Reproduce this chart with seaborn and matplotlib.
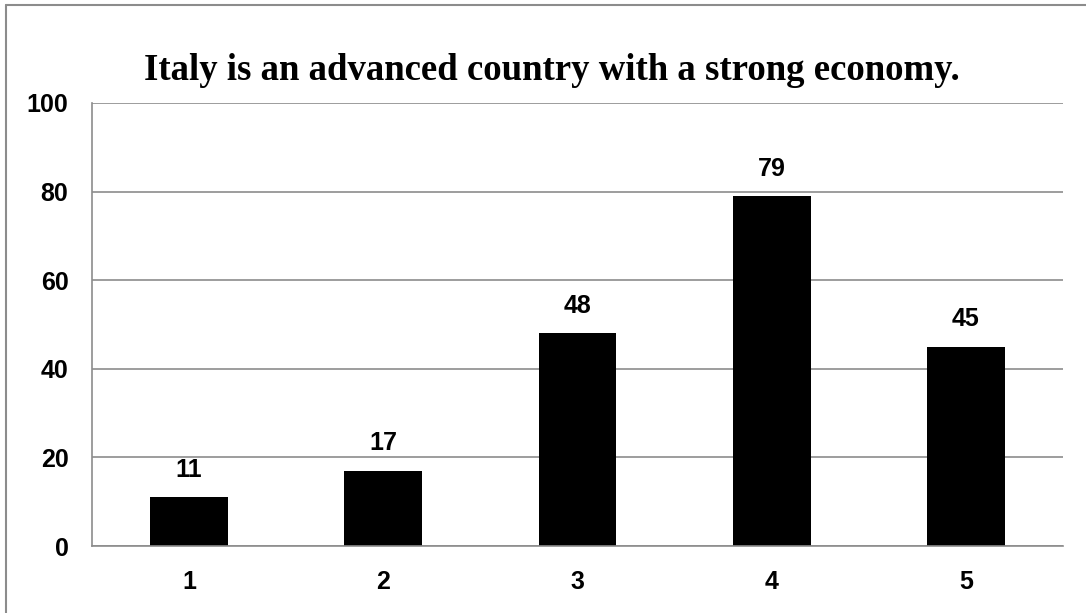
import matplotlib
matplotlib.use("Agg")
import matplotlib.pyplot as plt
from matplotlib.lines import Line2D
import seaborn as sns
import pandas as pd

categories = ["1", "2", "3", "4", "5"]
counts = [11, 17, 48, 79, 45]
y_ticks = [0, 20, 40, 60, 80, 100]
title = "Italy is an advanced country with a strong economy."

sns.set_theme(style="white")
plt.rcParams["font.family"] = ["Liberation Sans", "DejaVu Sans"]
plt.rcParams["font.weight"] = "bold"
plt.rcParams["text.color"] = "black"

df = pd.DataFrame({"category": categories, "count": counts})

fig = plt.figure(figsize=(10.86, 6.13), dpi=100)
ax = fig.add_axes([92 / 1086, 1 - 546 / 613, (1063 - 92) / 1086, (546 - 103) / 613])

sns.barplot(data=df, x="category", y="count", color="black", width=0.4,
            saturation=1, ax=ax, edgecolor="black", linewidth=0)

grid_c = "#8c8c8c"
ax.set_ylim(0, 100)
ax.set_yticks(y_ticks)
ax.yaxis.grid(True, color=grid_c, linewidth=1.2)
ax.set_axisbelow(True)
ax.set_xlim(-0.5, len(categories) - 0.5)

for side in ["top", "right"]:
    ax.spines[side].set_visible(False)
for side in ["left", "bottom"]:
    ax.spines[side].set_color(grid_c)
    ax.spines[side].set_linewidth(1.2)

# category boundary ticks on the x axis, value ticks on the y axis
ax.set_xticks([i + 0.5 for i in range(-1, len(categories))], minor=True)
ax.tick_params(axis="x", which="minor", direction="out", length=8, color=grid_c, width=1.2)
ax.tick_params(axis="x", which="major", length=0, pad=17, labelsize=18, labelcolor="black")
ax.tick_params(axis="y", direction="out", length=8, color=grid_c, width=1.2, pad=9,
               labelsize=18, labelcolor="black")

ax.set_xlabel("")
ax.set_ylabel("")

for i, v in enumerate(counts):
    ax.annotate(str(v), (i, v), xytext=(0, 11), textcoords="offset points",
                ha="center", va="bottom", fontsize=18, fontweight="bold", color="black")

fig.text(0.5 + 9 / 1086, 1 - 70 / 613, title, ha="center", va="center", color="black",
         fontsize=26.5, fontweight="bold", family=["Liberation Serif", "DejaVu Serif"])

# outer chart frame (left and top edges)
fig.add_artist(Line2D([6 / 1086, 6 / 1086], [0, 1 - 5 / 613], transform=fig.transFigure,
                      color=grid_c, linewidth=1.5))
fig.add_artist(Line2D([6 / 1086, 1], [1 - 5 / 613, 1 - 5 / 613], transform=fig.transFigure,
                      color=grid_c, linewidth=1.5))

fig.savefig("out.png", dpi=100, facecolor="white")
